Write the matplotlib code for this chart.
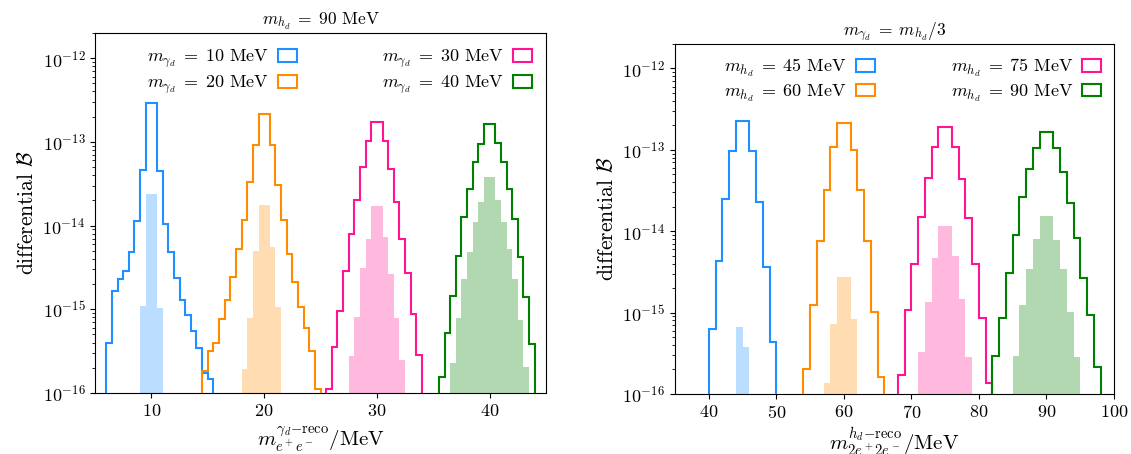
import matplotlib
matplotlib.use("Agg")
import matplotlib.pyplot as plt
from matplotlib.patches import Patch
import numpy as np

plt.rcParams['mathtext.fontset'] = 'cm'
plt.rcParams['font.family'] = 'serif'
plt.rcParams['font.serif'] = ['cmr10', 'DejaVu Serif']
plt.rcParams['axes.formatter.use_mathtext'] = True

colors = ['dodgerblue', 'darkorange', 'deeppink', 'green']

# ---- left panel: m_hd = 90 MeV, 0.5 MeV bins ----
left_labels = [r'$m_{\gamma_d}\;=\;10$ MeV', r'$m_{\gamma_d}\;=\;20$ MeV',
               r'$m_{\gamma_d}\;=\;30$ MeV', r'$m_{\gamma_d}\;=\;40$ MeV']
left_width = 0.5

# first bin edge of each outline / filled histogram
left_step_start = [6.0, 14.5, 25.5, 35.5]
left_fill_start = [9.0, 18.0, 27.5, 36.5]

left_step_10 = [4.0e-16, 1.66e-15, 2.29e-15, 2.88e-15, 4.9e-15, 1.12e-14, 4.57e-14,
                2.88e-13, 2.88e-13, 4.47e-14, 1.05e-14, 4.79e-15, 2.34e-15, 1.29e-15,
                8.5e-16, 5.5e-16, 3.4e-16, 1.74e-16, 1.45e-16]
left_step_20 = [1.82e-16, 3.16e-16, 4.0e-16, 7.6e-16, 1.29e-15, 2.45e-15, 5.25e-15,
                1.15e-14, 3.31e-14, 9.3e-14, 2.14e-13, 2.14e-13, 9.3e-14, 3.09e-14,
                1.15e-14, 4.57e-15, 2.09e-15, 1.07e-15, 5.9e-16, 3.16e-16, 1.12e-16]
left_step_30 = [1.12e-16, 3.55e-16, 9.5e-16, 2.88e-15, 7.9e-15, 2.04e-14, 5.0e-14,
                1.02e-13, 1.74e-13, 1.74e-13, 1.02e-13, 4.8e-14, 1.91e-14, 6.9e-15,
                2.69e-15, 8.7e-16, 2.82e-16]
left_step_40 = [1.55e-16, 5.2e-16, 1.45e-15, 4.37e-15, 1.26e-14, 2.75e-14, 5.75e-14,
                9.5e-14, 1.62e-13, 1.62e-13, 9.8e-14, 5.75e-14, 2.75e-14, 1.2e-14,
                4.27e-15, 1.41e-15, 3.8e-16]

left_fill_10 = [1.1e-15, 2.4e-14, 2.4e-14, 1.05e-15]
left_fill_20 = [1.95e-16, 7.9e-16, 5.0e-15, 1.74e-14, 1.74e-14, 5.5e-15, 1.07e-15]
left_fill_30 = [2.75e-16, 8.1e-16, 3.09e-15, 6.9e-15, 1.7e-14, 1.7e-14, 7.4e-15,
                2.63e-15, 7.9e-16, 2.45e-16]
left_fill_40 = [2.29e-16, 7.9e-16, 2.29e-15, 4.9e-15, 1.1e-14, 1.91e-14, 3.8e-14,
                3.8e-14, 2.0e-14, 1.1e-14, 5.25e-15, 2.29e-15, 7.4e-16, 2.04e-16]

# ---- right panel: m_gd = m_hd/3, 1 MeV bins ----
right_labels = [r'$m_{h_d}\;=\;45$ MeV', r'$m_{h_d}\;=\;60$ MeV',
                r'$m_{h_d}\;=\;75$ MeV', r'$m_{h_d}\;=\;90$ MeV']
right_width = 1.0

right_step_start = [40.0, 54.0, 68.0, 82.0]
right_fill_start = [44.0, 57.0, 71.0, 85.0]

right_step_45 = [6.3e-16, 4.27e-15, 2.51e-14, 9.8e-14, 2.29e-13, 2.29e-13, 9.8e-14,
                 2.29e-14, 3.63e-15, 4.37e-16]
right_step_60 = [2.0e-16, 1.23e-15, 7.6e-15, 3.24e-14, 1.07e-13, 2.14e-13, 2.14e-13,
                 1.0e-13, 3.24e-14, 7.6e-15, 1.02e-15, 1.62e-16]
right_step_75 = [1.7e-16, 1.07e-15, 3.9e-15, 1.51e-14, 4.47e-14, 1.07e-13, 1.91e-13,
                 1.91e-13, 1.07e-13, 4.37e-14, 1.45e-14, 3.98e-15, 8.7e-16, 1.38e-16]
right_step_90 = [2.95e-16, 8.5e-16, 3.09e-15, 8.9e-15, 2.63e-14, 5.75e-14, 1.05e-13,
                 1.66e-13, 1.66e-13, 1.05e-13, 5.4e-14, 2.24e-14, 8.3e-15, 2.63e-15,
                 9.3e-16, 2.14e-16]

right_fill_45 = [6.6e-16, 3.8e-16]
right_fill_60 = [1.38e-16, 7.2e-16, 2.75e-15, 2.75e-15, 8.3e-16]
right_fill_75 = [3.3e-16, 1.35e-15, 4.68e-15, 1.17e-14, 1.17e-14, 4.9e-15, 1.45e-15,
                 2.88e-16]
right_fill_90 = [2.95e-16, 1.23e-15, 3.47e-15, 8.1e-15, 1.55e-14, 1.55e-14, 7.9e-15,
                 3.47e-15, 1.02e-15, 2.82e-16]

left_steps = [left_step_10, left_step_20, left_step_30, left_step_40]
left_fills = [left_fill_10, left_fill_20, left_fill_30, left_fill_40]
right_steps = [right_step_45, right_step_60, right_step_75, right_step_90]
right_fills = [right_fill_45, right_fill_60, right_fill_75, right_fill_90]

BASE = 1e-18


def draw_panel(ax, steps, step_start, fills, fill_start, width, labels, colsp, pad):
    for i in range(4):
        v = np.array(steps[i])
        edges = step_start[i] + width * np.arange(len(v) + 1)
        ax.stairs(v, edges, baseline=BASE, color=colors[i], lw=1.5, zorder=3)
        f = np.array(fills[i])
        fedges = fill_start[i] + width * np.arange(len(f) + 1)
        ax.stairs(f, fedges, baseline=BASE, fill=True, color=colors[i],
                  alpha=0.3, lw=0, zorder=2)
    ax.set_yscale('log')
    ax.set_ylim(1e-16, 2e-12)
    ax.set_ylabel(r'differential $\mathcal{B}$', fontsize=15.5)
    ax.tick_params('both', labelsize=13)
    handles = [Patch(facecolor='none', edgecolor=c, lw=1.5) for c in colors]
    ax.legend(handles, labels, loc='upper right', ncol=2, frameon=False,
              markerfirst=False, fontsize=13, handlelength=1.05,
              columnspacing=colsp, handletextpad=0.5, labelspacing=0.2,
              borderaxespad=pad)


fig = plt.figure(figsize=(11.31, 4.54), dpi=100)
ax1 = fig.add_axes([0.084, 0.1344, 0.3988, 0.793])
ax2 = fig.add_axes([0.5968, 0.1322, 0.3882, 0.771])

draw_panel(ax1, left_steps, left_step_start, left_fills, left_fill_start,
           left_width, left_labels, 4.7, 0.4)
ax1.set_xlim(5, 45)
ax1.set_xticks([10, 20, 30, 40])
ax1.set_xlabel(r'$m_{e^+e^-}^{\gamma_d\mathrm{-reco}}$/MeV', fontsize=15)
ax1.set_title(r'$m_{h_d}\;=\;90$ MeV', fontsize=12.5)

draw_panel(ax2, right_steps, right_step_start, right_fills, right_fill_start,
           right_width, right_labels, 4.2, 0.3)
ax2.set_xlim(35, 100)
ax2.set_xticks([40, 50, 60, 70, 80, 90, 100])
ax2.set_xlabel(r'$m_{2e^+2e^-}^{h_d\mathrm{-reco}}$/MeV', fontsize=15)
ax2.set_title(r'$m_{\gamma_d}\;=\;m_{h_d}/3$', fontsize=12.5)

fig.savefig('out.png', dpi=100)
